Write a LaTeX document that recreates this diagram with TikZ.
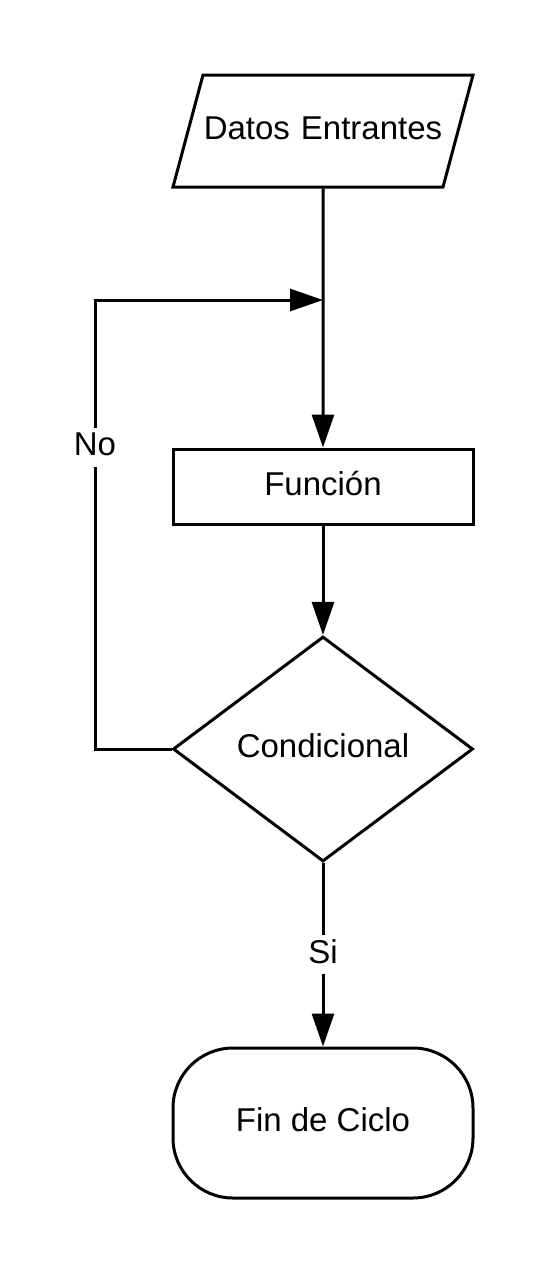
\documentclass[tikz,border=0pt]{standalone}
\usepackage{fontspec}
\setmainfont{Liberation Sans}
\usepackage{tikz}
\usetikzlibrary{shapes, arrows.meta}
\tikzstyle{io} = [trapezium, trapezium left angle=75, trapezium right angle=105, text width=120pt, align=center, text height=32.25pt, text depth=23.75pt, inner sep=0pt, draw=black, line width=1.5pt]
\tikzstyle{process} = [rectangle, minimum width=150pt, minimum height=37.5pt, text height=12pt, text depth=3.5pt, text centered, draw=black, line width=1.5pt]
\tikzstyle{decision} = [diamond, minimum width=150pt, minimum height=112.5pt, inner sep=0pt, text height=12pt, text depth=3.5pt, text centered, draw=black, line width=1.5pt]
\tikzstyle{startstop} = [rectangle, rounded corners=30pt, minimum width=150pt, minimum height=75pt, text height=12pt, text depth=3.5pt, text centered, draw=black, line width=1.5pt]
\tikzstyle{arrow} = [line width=1.5pt, -{Triangle[length=16.5pt, width=11pt]}]
\tikzstyle{etiqueta} = [fill=white, inner sep=2pt, text height=12pt, text depth=3.5pt]

\begin{document}
\begin{tikzpicture}[node distance=150pt, font=\fontsize{16.5}{20}\selectfont]
\useasboundingbox (0,0) rectangle (274.5pt,-637.5pt);

\node (datos) [io] at (161.5pt,-65.5pt) {Datos Entrantes};
\node (funcion) [process, below of=datos, yshift=-27.75pt] {Función};
\node (cond) [decision, below of=funcion, yshift=18.75pt] {Condicional};
\node (fin) [startstop, below of=cond, yshift=-37pt] {Fin de Ciclo};

\coordinate (union) at (161.5pt,-150pt);
\coordinate (retorno) at (47.5pt,-374.5pt);

\draw [arrow] (datos) -- (funcion);
\draw [arrow] (funcion) -- (cond);
\draw [arrow] (cond) -- node[etiqueta, pos=0.5] {Si} (fin);
\draw [arrow] (cond.west) -- (retorno) |- node[etiqueta, pos=0.336] {No} (union);

\end{tikzpicture}
\end{document}
